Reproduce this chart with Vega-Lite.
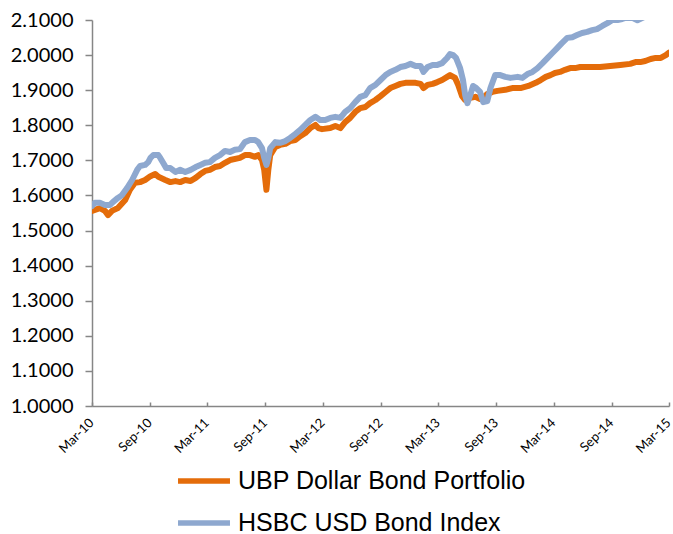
{
  "$schema": "https://vega.github.io/schema/vega-lite/v6.json",
  "width": 577,
  "height": 386,
  "autosize": {"type": "none"},
  "padding": {"left": 92, "top": 20, "right": 4, "bottom": 128},
  "background": "white",
  "config": {"view": {"stroke": null}},
  "data": {"values": [
    {"d":"2010-03-01","s":"UBP Dollar Bond Portfolio","v":1.556},
    {"d":"2010-03-26","s":"UBP Dollar Bond Portfolio","v":1.564},
    {"d":"2010-04-11","s":"UBP Dollar Bond Portfolio","v":1.556},
    {"d":"2010-04-21","s":"UBP Dollar Bond Portfolio","v":1.544},
    {"d":"2010-05-03","s":"UBP Dollar Bond Portfolio","v":1.556},
    {"d":"2010-05-22","s":"UBP Dollar Bond Portfolio","v":1.564},
    {"d":"2010-06-14","s":"UBP Dollar Bond Portfolio","v":1.587},
    {"d":"2010-06-29","s":"UBP Dollar Bond Portfolio","v":1.616},
    {"d":"2010-07-15","s":"UBP Dollar Bond Portfolio","v":1.636},
    {"d":"2010-07-31","s":"UBP Dollar Bond Portfolio","v":1.638},
    {"d":"2010-08-16","s":"UBP Dollar Bond Portfolio","v":1.644},
    {"d":"2010-09-02","s":"UBP Dollar Bond Portfolio","v":1.655},
    {"d":"2010-09-17","s":"UBP Dollar Bond Portfolio","v":1.661},
    {"d":"2010-09-27","s":"UBP Dollar Bond Portfolio","v":1.653},
    {"d":"2010-10-19","s":"UBP Dollar Bond Portfolio","v":1.644},
    {"d":"2010-11-04","s":"UBP Dollar Bond Portfolio","v":1.638},
    {"d":"2010-11-20","s":"UBP Dollar Bond Portfolio","v":1.641},
    {"d":"2010-12-05","s":"UBP Dollar Bond Portfolio","v":1.638},
    {"d":"2010-12-21","s":"UBP Dollar Bond Portfolio","v":1.644},
    {"d":"2011-01-07","s":"UBP Dollar Bond Portfolio","v":1.641},
    {"d":"2011-01-23","s":"UBP Dollar Bond Portfolio","v":1.650},
    {"d":"2011-02-07","s":"UBP Dollar Bond Portfolio","v":1.661},
    {"d":"2011-02-22","s":"UBP Dollar Bond Portfolio","v":1.670},
    {"d":"2011-03-09","s":"UBP Dollar Bond Portfolio","v":1.673},
    {"d":"2011-03-25","s":"UBP Dollar Bond Portfolio","v":1.681},
    {"d":"2011-04-10","s":"UBP Dollar Bond Portfolio","v":1.684},
    {"d":"2011-04-26","s":"UBP Dollar Bond Portfolio","v":1.693},
    {"d":"2011-05-12","s":"UBP Dollar Bond Portfolio","v":1.701},
    {"d":"2011-06-12","s":"UBP Dollar Bond Portfolio","v":1.707},
    {"d":"2011-06-28","s":"UBP Dollar Bond Portfolio","v":1.715},
    {"d":"2011-07-14","s":"UBP Dollar Bond Portfolio","v":1.715},
    {"d":"2011-07-30","s":"UBP Dollar Bond Portfolio","v":1.710},
    {"d":"2011-08-09","s":"UBP Dollar Bond Portfolio","v":1.715},
    {"d":"2011-08-21","s":"UBP Dollar Bond Portfolio","v":1.701},
    {"d":"2011-08-28","s":"UBP Dollar Bond Portfolio","v":1.673},
    {"d":"2011-09-04","s":"UBP Dollar Bond Portfolio","v":1.616},
    {"d":"2011-09-10","s":"UBP Dollar Bond Portfolio","v":1.673},
    {"d":"2011-09-16","s":"UBP Dollar Bond Portfolio","v":1.715},
    {"d":"2011-10-02","s":"UBP Dollar Bond Portfolio","v":1.738},
    {"d":"2011-10-17","s":"UBP Dollar Bond Portfolio","v":1.744},
    {"d":"2011-11-03","s":"UBP Dollar Bond Portfolio","v":1.747},
    {"d":"2011-11-18","s":"UBP Dollar Bond Portfolio","v":1.755},
    {"d":"2011-12-04","s":"UBP Dollar Bond Portfolio","v":1.758},
    {"d":"2011-12-20","s":"UBP Dollar Bond Portfolio","v":1.769},
    {"d":"2012-01-05","s":"UBP Dollar Bond Portfolio","v":1.778},
    {"d":"2012-01-21","s":"UBP Dollar Bond Portfolio","v":1.792},
    {"d":"2012-02-06","s":"UBP Dollar Bond Portfolio","v":1.801},
    {"d":"2012-02-15","s":"UBP Dollar Bond Portfolio","v":1.792},
    {"d":"2012-02-27","s":"UBP Dollar Bond Portfolio","v":1.789},
    {"d":"2012-03-24","s":"UBP Dollar Bond Portfolio","v":1.792},
    {"d":"2012-04-09","s":"UBP Dollar Bond Portfolio","v":1.798},
    {"d":"2012-04-25","s":"UBP Dollar Bond Portfolio","v":1.792},
    {"d":"2012-05-10","s":"UBP Dollar Bond Portfolio","v":1.809},
    {"d":"2012-05-26","s":"UBP Dollar Bond Portfolio","v":1.821},
    {"d":"2012-06-11","s":"UBP Dollar Bond Portfolio","v":1.838},
    {"d":"2012-06-27","s":"UBP Dollar Bond Portfolio","v":1.849},
    {"d":"2012-07-13","s":"UBP Dollar Bond Portfolio","v":1.852},
    {"d":"2012-07-28","s":"UBP Dollar Bond Portfolio","v":1.863},
    {"d":"2012-08-14","s":"UBP Dollar Bond Portfolio","v":1.872},
    {"d":"2012-08-30","s":"UBP Dollar Bond Portfolio","v":1.883},
    {"d":"2012-09-15","s":"UBP Dollar Bond Portfolio","v":1.895},
    {"d":"2012-09-30","s":"UBP Dollar Bond Portfolio","v":1.906},
    {"d":"2012-10-16","s":"UBP Dollar Bond Portfolio","v":1.912},
    {"d":"2012-11-01","s":"UBP Dollar Bond Portfolio","v":1.918},
    {"d":"2012-11-17","s":"UBP Dollar Bond Portfolio","v":1.921},
    {"d":"2012-12-03","s":"UBP Dollar Bond Portfolio","v":1.921},
    {"d":"2012-12-19","s":"UBP Dollar Bond Portfolio","v":1.921},
    {"d":"2013-01-04","s":"UBP Dollar Bond Portfolio","v":1.918},
    {"d":"2013-01-13","s":"UBP Dollar Bond Portfolio","v":1.906},
    {"d":"2013-01-26","s":"UBP Dollar Bond Portfolio","v":1.915},
    {"d":"2013-02-11","s":"UBP Dollar Bond Portfolio","v":1.918},
    {"d":"2013-02-26","s":"UBP Dollar Bond Portfolio","v":1.923},
    {"d":"2013-03-13","s":"UBP Dollar Bond Portfolio","v":1.929},
    {"d":"2013-03-29","s":"UBP Dollar Bond Portfolio","v":1.938},
    {"d":"2013-04-07","s":"UBP Dollar Bond Portfolio","v":1.943},
    {"d":"2013-04-23","s":"UBP Dollar Bond Portfolio","v":1.935},
    {"d":"2013-05-03","s":"UBP Dollar Bond Portfolio","v":1.915},
    {"d":"2013-05-15","s":"UBP Dollar Bond Portfolio","v":1.883},
    {"d":"2013-05-25","s":"UBP Dollar Bond Portfolio","v":1.872},
    {"d":"2013-06-10","s":"UBP Dollar Bond Portfolio","v":1.878},
    {"d":"2013-06-26","s":"UBP Dollar Bond Portfolio","v":1.881},
    {"d":"2013-07-11","s":"UBP Dollar Bond Portfolio","v":1.875},
    {"d":"2013-07-21","s":"UBP Dollar Bond Portfolio","v":1.878},
    {"d":"2013-08-03","s":"UBP Dollar Bond Portfolio","v":1.889},
    {"d":"2013-08-19","s":"UBP Dollar Bond Portfolio","v":1.895},
    {"d":"2013-09-04","s":"UBP Dollar Bond Portfolio","v":1.898},
    {"d":"2013-09-29","s":"UBP Dollar Bond Portfolio","v":1.901},
    {"d":"2013-10-21","s":"UBP Dollar Bond Portfolio","v":1.906},
    {"d":"2013-11-16","s":"UBP Dollar Bond Portfolio","v":1.906},
    {"d":"2013-12-11","s":"UBP Dollar Bond Portfolio","v":1.912},
    {"d":"2014-01-03","s":"UBP Dollar Bond Portfolio","v":1.921},
    {"d":"2014-01-19","s":"UBP Dollar Bond Portfolio","v":1.929},
    {"d":"2014-02-04","s":"UBP Dollar Bond Portfolio","v":1.938},
    {"d":"2014-02-19","s":"UBP Dollar Bond Portfolio","v":1.943},
    {"d":"2014-03-05","s":"UBP Dollar Bond Portfolio","v":1.949},
    {"d":"2014-03-21","s":"UBP Dollar Bond Portfolio","v":1.952},
    {"d":"2014-04-06","s":"UBP Dollar Bond Portfolio","v":1.958},
    {"d":"2014-04-22","s":"UBP Dollar Bond Portfolio","v":1.963},
    {"d":"2014-05-08","s":"UBP Dollar Bond Portfolio","v":1.963},
    {"d":"2014-05-24","s":"UBP Dollar Bond Portfolio","v":1.966},
    {"d":"2014-06-24","s":"UBP Dollar Bond Portfolio","v":1.966},
    {"d":"2014-07-26","s":"UBP Dollar Bond Portfolio","v":1.966},
    {"d":"2014-08-27","s":"UBP Dollar Bond Portfolio","v":1.969},
    {"d":"2014-09-28","s":"UBP Dollar Bond Portfolio","v":1.972},
    {"d":"2014-10-29","s":"UBP Dollar Bond Portfolio","v":1.975},
    {"d":"2014-11-15","s":"UBP Dollar Bond Portfolio","v":1.980},
    {"d":"2014-11-30","s":"UBP Dollar Bond Portfolio","v":1.980},
    {"d":"2014-12-16","s":"UBP Dollar Bond Portfolio","v":1.983},
    {"d":"2015-01-02","s":"UBP Dollar Bond Portfolio","v":1.989},
    {"d":"2015-01-18","s":"UBP Dollar Bond Portfolio","v":1.992},
    {"d":"2015-02-03","s":"UBP Dollar Bond Portfolio","v":1.992},
    {"d":"2015-02-19","s":"UBP Dollar Bond Portfolio","v":2.000},
    {"d":"2015-03-01","s":"UBP Dollar Bond Portfolio","v":2.007},
    {"d":"2010-03-01","s":"HSBC USD Bond Index","v":1.570},
    {"d":"2010-03-10","s":"HSBC USD Bond Index","v":1.579},
    {"d":"2010-03-26","s":"HSBC USD Bond Index","v":1.579},
    {"d":"2010-04-11","s":"HSBC USD Bond Index","v":1.573},
    {"d":"2010-04-27","s":"HSBC USD Bond Index","v":1.573},
    {"d":"2010-05-06","s":"HSBC USD Bond Index","v":1.581},
    {"d":"2010-05-22","s":"HSBC USD Bond Index","v":1.593},
    {"d":"2010-06-04","s":"HSBC USD Bond Index","v":1.601},
    {"d":"2010-06-20","s":"HSBC USD Bond Index","v":1.621},
    {"d":"2010-07-06","s":"HSBC USD Bond Index","v":1.644},
    {"d":"2010-07-22","s":"HSBC USD Bond Index","v":1.673},
    {"d":"2010-07-31","s":"HSBC USD Bond Index","v":1.684},
    {"d":"2010-08-16","s":"HSBC USD Bond Index","v":1.687},
    {"d":"2010-08-26","s":"HSBC USD Bond Index","v":1.695},
    {"d":"2010-09-02","s":"HSBC USD Bond Index","v":1.707},
    {"d":"2010-09-11","s":"HSBC USD Bond Index","v":1.715},
    {"d":"2010-09-27","s":"HSBC USD Bond Index","v":1.715},
    {"d":"2010-10-03","s":"HSBC USD Bond Index","v":1.707},
    {"d":"2010-10-12","s":"HSBC USD Bond Index","v":1.693},
    {"d":"2010-10-22","s":"HSBC USD Bond Index","v":1.678},
    {"d":"2010-11-04","s":"HSBC USD Bond Index","v":1.678},
    {"d":"2010-11-20","s":"HSBC USD Bond Index","v":1.667},
    {"d":"2010-12-05","s":"HSBC USD Bond Index","v":1.673},
    {"d":"2010-12-21","s":"HSBC USD Bond Index","v":1.667},
    {"d":"2011-01-07","s":"HSBC USD Bond Index","v":1.673},
    {"d":"2011-01-23","s":"HSBC USD Bond Index","v":1.681},
    {"d":"2011-02-07","s":"HSBC USD Bond Index","v":1.687},
    {"d":"2011-02-22","s":"HSBC USD Bond Index","v":1.693},
    {"d":"2011-03-09","s":"HSBC USD Bond Index","v":1.695},
    {"d":"2011-03-25","s":"HSBC USD Bond Index","v":1.707},
    {"d":"2011-04-10","s":"HSBC USD Bond Index","v":1.715},
    {"d":"2011-04-26","s":"HSBC USD Bond Index","v":1.727},
    {"d":"2011-05-12","s":"HSBC USD Bond Index","v":1.724},
    {"d":"2011-05-27","s":"HSBC USD Bond Index","v":1.730},
    {"d":"2011-06-12","s":"HSBC USD Bond Index","v":1.732},
    {"d":"2011-06-28","s":"HSBC USD Bond Index","v":1.752},
    {"d":"2011-07-14","s":"HSBC USD Bond Index","v":1.758},
    {"d":"2011-07-30","s":"HSBC USD Bond Index","v":1.758},
    {"d":"2011-08-09","s":"HSBC USD Bond Index","v":1.752},
    {"d":"2011-08-21","s":"HSBC USD Bond Index","v":1.735},
    {"d":"2011-08-28","s":"HSBC USD Bond Index","v":1.707},
    {"d":"2011-09-04","s":"HSBC USD Bond Index","v":1.687},
    {"d":"2011-09-10","s":"HSBC USD Bond Index","v":1.707},
    {"d":"2011-09-16","s":"HSBC USD Bond Index","v":1.735},
    {"d":"2011-10-02","s":"HSBC USD Bond Index","v":1.752},
    {"d":"2011-10-17","s":"HSBC USD Bond Index","v":1.750},
    {"d":"2011-11-03","s":"HSBC USD Bond Index","v":1.755},
    {"d":"2011-11-18","s":"HSBC USD Bond Index","v":1.764},
    {"d":"2011-12-04","s":"HSBC USD Bond Index","v":1.775},
    {"d":"2011-12-20","s":"HSBC USD Bond Index","v":1.787},
    {"d":"2012-01-05","s":"HSBC USD Bond Index","v":1.801},
    {"d":"2012-01-21","s":"HSBC USD Bond Index","v":1.815},
    {"d":"2012-02-06","s":"HSBC USD Bond Index","v":1.824},
    {"d":"2012-02-21","s":"HSBC USD Bond Index","v":1.815},
    {"d":"2012-03-08","s":"HSBC USD Bond Index","v":1.815},
    {"d":"2012-03-24","s":"HSBC USD Bond Index","v":1.821},
    {"d":"2012-04-09","s":"HSBC USD Bond Index","v":1.824},
    {"d":"2012-04-25","s":"HSBC USD Bond Index","v":1.821},
    {"d":"2012-05-10","s":"HSBC USD Bond Index","v":1.838},
    {"d":"2012-05-26","s":"HSBC USD Bond Index","v":1.849},
    {"d":"2012-06-11","s":"HSBC USD Bond Index","v":1.866},
    {"d":"2012-06-27","s":"HSBC USD Bond Index","v":1.881},
    {"d":"2012-07-13","s":"HSBC USD Bond Index","v":1.886},
    {"d":"2012-07-28","s":"HSBC USD Bond Index","v":1.906},
    {"d":"2012-08-14","s":"HSBC USD Bond Index","v":1.915},
    {"d":"2012-08-30","s":"HSBC USD Bond Index","v":1.929},
    {"d":"2012-09-15","s":"HSBC USD Bond Index","v":1.943},
    {"d":"2012-09-30","s":"HSBC USD Bond Index","v":1.952},
    {"d":"2012-10-16","s":"HSBC USD Bond Index","v":1.958},
    {"d":"2012-11-01","s":"HSBC USD Bond Index","v":1.966},
    {"d":"2012-11-17","s":"HSBC USD Bond Index","v":1.969},
    {"d":"2012-12-03","s":"HSBC USD Bond Index","v":1.975},
    {"d":"2012-12-19","s":"HSBC USD Bond Index","v":1.969},
    {"d":"2013-01-04","s":"HSBC USD Bond Index","v":1.969},
    {"d":"2013-01-13","s":"HSBC USD Bond Index","v":1.952},
    {"d":"2013-01-26","s":"HSBC USD Bond Index","v":1.966},
    {"d":"2013-02-11","s":"HSBC USD Bond Index","v":1.972},
    {"d":"2013-02-26","s":"HSBC USD Bond Index","v":1.972},
    {"d":"2013-03-13","s":"HSBC USD Bond Index","v":1.977},
    {"d":"2013-03-29","s":"HSBC USD Bond Index","v":1.992},
    {"d":"2013-04-07","s":"HSBC USD Bond Index","v":2.003},
    {"d":"2013-04-17","s":"HSBC USD Bond Index","v":2.000},
    {"d":"2013-04-26","s":"HSBC USD Bond Index","v":1.992},
    {"d":"2013-05-09","s":"HSBC USD Bond Index","v":1.963},
    {"d":"2013-05-18","s":"HSBC USD Bond Index","v":1.929},
    {"d":"2013-05-25","s":"HSBC USD Bond Index","v":1.886},
    {"d":"2013-06-01","s":"HSBC USD Bond Index","v":1.863},
    {"d":"2013-06-10","s":"HSBC USD Bond Index","v":1.886},
    {"d":"2013-06-19","s":"HSBC USD Bond Index","v":1.912},
    {"d":"2013-06-29","s":"HSBC USD Bond Index","v":1.906},
    {"d":"2013-07-11","s":"HSBC USD Bond Index","v":1.895},
    {"d":"2013-07-21","s":"HSBC USD Bond Index","v":1.866},
    {"d":"2013-08-03","s":"HSBC USD Bond Index","v":1.869},
    {"d":"2013-08-13","s":"HSBC USD Bond Index","v":1.906},
    {"d":"2013-08-28","s":"HSBC USD Bond Index","v":1.943},
    {"d":"2013-09-13","s":"HSBC USD Bond Index","v":1.943},
    {"d":"2013-09-29","s":"HSBC USD Bond Index","v":1.938},
    {"d":"2013-10-15","s":"HSBC USD Bond Index","v":1.935},
    {"d":"2013-11-07","s":"HSBC USD Bond Index","v":1.938},
    {"d":"2013-11-22","s":"HSBC USD Bond Index","v":1.935},
    {"d":"2013-12-08","s":"HSBC USD Bond Index","v":1.946},
    {"d":"2013-12-24","s":"HSBC USD Bond Index","v":1.952},
    {"d":"2014-01-09","s":"HSBC USD Bond Index","v":1.963},
    {"d":"2014-01-25","s":"HSBC USD Bond Index","v":1.977},
    {"d":"2014-02-10","s":"HSBC USD Bond Index","v":1.992},
    {"d":"2014-02-25","s":"HSBC USD Bond Index","v":2.006},
    {"d":"2014-03-12","s":"HSBC USD Bond Index","v":2.020},
    {"d":"2014-03-27","s":"HSBC USD Bond Index","v":2.034},
    {"d":"2014-04-13","s":"HSBC USD Bond Index","v":2.049},
    {"d":"2014-04-29","s":"HSBC USD Bond Index","v":2.051},
    {"d":"2014-05-14","s":"HSBC USD Bond Index","v":2.057},
    {"d":"2014-05-30","s":"HSBC USD Bond Index","v":2.063},
    {"d":"2014-06-15","s":"HSBC USD Bond Index","v":2.066},
    {"d":"2014-07-01","s":"HSBC USD Bond Index","v":2.071},
    {"d":"2014-07-16","s":"HSBC USD Bond Index","v":2.074},
    {"d":"2014-08-02","s":"HSBC USD Bond Index","v":2.083},
    {"d":"2014-08-18","s":"HSBC USD Bond Index","v":2.091},
    {"d":"2014-09-03","s":"HSBC USD Bond Index","v":2.100},
    {"d":"2014-09-19","s":"HSBC USD Bond Index","v":2.100},
    {"d":"2014-10-04","s":"HSBC USD Bond Index","v":2.103},
    {"d":"2014-10-14","s":"HSBC USD Bond Index","v":2.106},
    {"d":"2014-11-05","s":"HSBC USD Bond Index","v":2.106},
    {"d":"2014-11-21","s":"HSBC USD Bond Index","v":2.099},
    {"d":"2014-12-16","s":"HSBC USD Bond Index","v":2.110},
    {"d":"2015-01-18","s":"HSBC USD Bond Index","v":2.118},
    {"d":"2015-03-01","s":"HSBC USD Bond Index","v":2.125}
  ]},
  "mark": {"type": "line", "strokeWidth": 6, "clip": true, "strokeJoin": "round", "strokeCap": "round"},
  "encoding": {
    "x": {
      "field": "d", "type": "temporal",
      "scale": {"type": "utc", "domain": [{"year": 2010, "month": 3, "date": 1, "utc": true}, {"year": 2015, "month": 3, "date": 1, "utc": true}]},
      "axis": {
        "title": null, "grid": false,
        "labelExpr": "utcFormat(datum.value, '%b-%y')",
        "values": [
          {"year": 2010, "month": 3, "date": 1, "utc": true},
          {"year": 2010, "month": 9, "date": 1, "utc": true},
          {"year": 2011, "month": 3, "date": 1, "utc": true},
          {"year": 2011, "month": 9, "date": 1, "utc": true},
          {"year": 2012, "month": 3, "date": 1, "utc": true},
          {"year": 2012, "month": 9, "date": 1, "utc": true},
          {"year": 2013, "month": 3, "date": 1, "utc": true},
          {"year": 2013, "month": 9, "date": 1, "utc": true},
          {"year": 2014, "month": 3, "date": 1, "utc": true},
          {"year": 2014, "month": 9, "date": 1, "utc": true},
          {"year": 2015, "month": 3, "date": 1, "utc": true}
        ],
        "labelAngle": -45, "labelFont": "Lato", "labelFontSize": 13, "labelColor": "#000000",
        "labelPadding": 14, "labelOffset": -5, "labelFlush": false, "labelOverlap": false, "labelBound": false,
        "domainColor": "#868686", "domainWidth": 1.5, "tickColor": "#868686", "tickWidth": 1.5, "tickSize": -4
      }
    },
    "y": {
      "field": "v", "type": "quantitative",
      "scale": {"domain": [1.0, 2.1], "zero": false, "nice": false},
      "axis": {
        "title": null, "grid": false, "format": ".4f",
        "values": [1.0, 1.1, 1.2, 1.3, 1.4, 1.5, 1.6, 1.7, 1.8, 1.9, 2.0, 2.1],
        "labelFont": "Lato", "labelFontSize": 20, "labelColor": "#000000", "labelPadding": 12,
        "domainColor": "#868686", "domainWidth": 1.5, "tickColor": "#868686", "tickWidth": 1.5, "tickSize": 7
      }
    },
    "color": {
      "field": "s", "type": "nominal",
      "scale": {"domain": ["UBP Dollar Bond Portfolio", "HSBC USD Bond Index"], "range": ["#E46C0A", "#8EA8CF"]},
      "legend": {
        "title": null, "orient": "none", "legendX": 83, "legendY": 432, "direction": "vertical",
        "symbolType": "stroke", "symbolSize": 2700, "symbolStrokeWidth": 5.5,
        "labelFont": "Liberation Sans", "labelFontSize": 25, "labelColor": "#000000", "labelOffset": 5,
        "rowPadding": -5, "labelLimit": 400
      }
    }
  }
}
